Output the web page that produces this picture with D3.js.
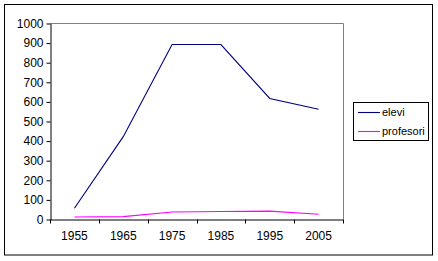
<!DOCTYPE html>
<html>
<head>
<meta charset="utf-8">
<script src="https://cdn.jsdelivr.net/npm/d3@7"></script>
<style>
  body { margin: 0; background: #fff; }
  svg text { font-family: Arial, "Liberation Sans", sans-serif; fill: #000; }
</style>
</head>
<body>
<div id="chart-area"></div>
<script>
// data
const years = ["1955", "1965", "1975", "1985", "1995", "2005"]
const elevi = [55, 420, 890, 890, 615, 560]
const profesori = [10, 12, 36, 38, 40, 24]
const yTicks = [0, 100, 200, 300, 400, 500, 600, 700, 800, 900, 1000]

const W = 438, H = 261
const PLOT = { LEFT: 50, RIGHT: 343, TOP: 23, BOTTOM: 219 }
const FONT = "Arial, 'Liberation Sans', sans-serif"

const svg = d3.select("#chart-area").append("svg")
  .attr("width", W)
  .attr("height", H)

// outer chart border
svg.append("rect")
  .attr("x", 4.5).attr("y", 4.5)
  .attr("width", 428).attr("height", 250.5)
  .attr("fill", "#fff")
  .attr("stroke", "#000")

const x = d3.scaleBand()
  .domain(years)
  .range([PLOT.LEFT, PLOT.RIGHT])
  .padding(0)

const y = d3.scaleLinear()
  .domain([0, 1000])
  .range([PLOT.BOTTOM, PLOT.TOP])

// plot frame (top and right in grey)
svg.append("path")
  .attr("d", `M${PLOT.LEFT},${PLOT.TOP + 0.5}H${PLOT.RIGHT + 0.5}V${PLOT.BOTTOM}`)
  .attr("fill", "none")
  .attr("stroke", "#808080")

// Y axis
const yAxis = svg.append("g")
  .attr("transform", `translate(${PLOT.LEFT + 0.5},0.5)`)
  .call(d3.axisLeft(y).tickValues(yTicks).tickFormat(d3.format("d"))
    .tickSize(4).tickSizeOuter(0).tickPadding(3))
yAxis.select(".domain").attr("stroke", "#000")
yAxis.selectAll("text").style("font-size", "12px").attr("font-family", FONT)

// X axis: labels at centres, ticks at band edges
const xAxis = svg.append("g")
  .attr("transform", `translate(0,${PLOT.BOTTOM + 0.5})`)
  .call(d3.axisBottom(x).tickSize(0).tickSizeOuter(0).tickPadding(12))
xAxis.select(".domain").attr("stroke", "#000")
xAxis.selectAll("text").style("font-size", "12px").attr("font-family", FONT)

const edges = years.map(d => x(d)).concat([x.range()[1]])
xAxis.selectAll("line.edge")
  .data(edges)
  .enter().append("line")
  .attr("class", "edge")
  .attr("x1", d => Math.round(d) + 0.5)
  .attr("x2", d => Math.round(d) + 0.5)
  .attr("y1", 0)
  .attr("y2", 4)
  .attr("stroke", "#000")

// lines
const series = [
  { name: "elevi", values: elevi, color: "#000080" },
  { name: "profesori", values: profesori, color: "#ff00ff" }
]

const line = d3.line()
  .x((d, i) => x(years[i]) + x.bandwidth() / 2)
  .y(d => y(d))

svg.selectAll("path.series")
  .data(series)
  .enter().append("path")
  .attr("class", "series")
  .attr("d", d => line(d.values))
  .attr("fill", "none")
  .attr("stroke", d => d.color)
  .attr("stroke-width", 1.1)

// legend
const legend = svg.append("g")
legend.append("rect")
  .attr("x", 353.5).attr("y", 102.5)
  .attr("width", 75).attr("height", 38)
  .attr("fill", "#fff")
  .attr("stroke", "#000")

const items = legend.selectAll("g.item")
  .data(series)
  .enter().append("g")
  .attr("class", "item")
  .attr("transform", (d, i) => `translate(0,${112.5 + i * 19})`)

items.append("line")
  .attr("x1", 358).attr("x2", 380)
  .attr("stroke", d => d.color)
  .attr("stroke-width", 1.1)

items.append("text")
  .attr("x", 382)
  .attr("dy", "0.35em")
  .style("font-size", "11px")
  .text(d => d.name)
</script>
</body>
</html>
